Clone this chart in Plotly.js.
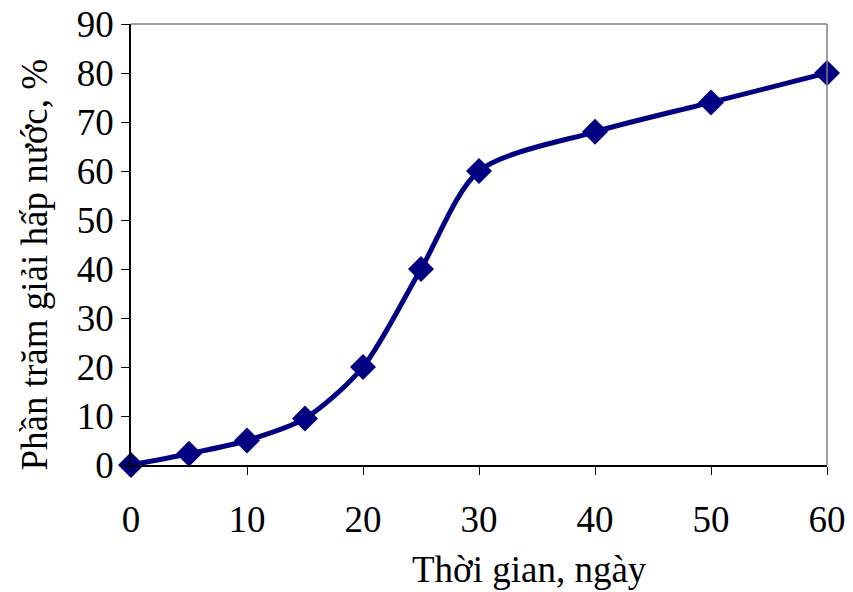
<!DOCTYPE html>
<html><head><meta charset="utf-8">
<script src="https://cdn.plot.ly/plotly-3.0.1.min.js"></script>
<style>body{margin:0;background:#fff}#c{width:853px;height:592px}</style>
</head><body><div id="c"></div>
<script>
var days = [0, 5, 10, 15, 20, 25, 30, 40, 50, 60];
var percent = [0, 2.3, 5, 9.5, 20, 40, 60, 68, 74, 80];
var xTicks = [0, 10, 20, 30, 40, 50, 60];
var yTicks = [0, 10, 20, 30, 40, 50, 60, 70, 80, 90];
var xTitle = 'Thời gian, ngày';
var yTitle = 'Phần trăm giải hấp nước, %';
var fam = "'Liberation Serif', 'Times New Roman', serif";
function f(s) { return {family: fam, size: s, color: '#000'}; }
Plotly.newPlot('c', [{
  x: days, y: percent, type: 'scatter', mode: 'lines+markers',
  line: {color: '#000080', width: 5, shape: 'spline', smoothing: 0.8},
  marker: {symbol: 'diamond', size: 20, color: '#000080'},
  cliponaxis: false, showlegend: false
}], {
  width: 853, height: 592,
  margin: {l: 131, r: 26, t: 24, b: 127},
  paper_bgcolor: '#fff', plot_bgcolor: '#fff',
  font: f(37),
  xaxis: {range: [0, 60], tickvals: xTicks, ticktext: xTicks.map(String),
    showgrid: false, zeroline: false, showline: true, linecolor: '#000', linewidth: 1.5,
    ticks: 'outside', ticklen: 8, tickcolor: '#000', ticklabelstandoff: 13,
    tickfont: f(37)},
  yaxis: {range: [0, 90], tickvals: yTicks, ticktext: yTicks.map(String),
    showgrid: false, zeroline: false, showline: true, linecolor: '#000', linewidth: 1.5,
    ticks: 'outside', ticklen: 8, tickcolor: '#000',
    tickfont: f(37)},
  annotations: [
    {text: xTitle, xref: 'paper', yref: 'paper', x: 0.573, y: -0.236, xanchor: 'center', yanchor: 'middle', showarrow: false, font: f(37)},
    {text: yTitle, xref: 'paper', yref: 'paper', x: -0.14, y: 0.4535, xanchor: 'center', yanchor: 'middle', textangle: -90, showarrow: false, font: f(37)}
  ],
  shapes: [
    {type: 'line', xref: 'paper', yref: 'paper', x0: 0, x1: 1, y0: 1, y1: 1, line: {color: '#808080', width: 1.5}},
    {type: 'line', xref: 'paper', yref: 'paper', x0: 1, x1: 1, y0: 0, y1: 1, line: {color: '#808080', width: 1.5}}
  ]
}, {displayModeBar: false});
</script></body></html>
